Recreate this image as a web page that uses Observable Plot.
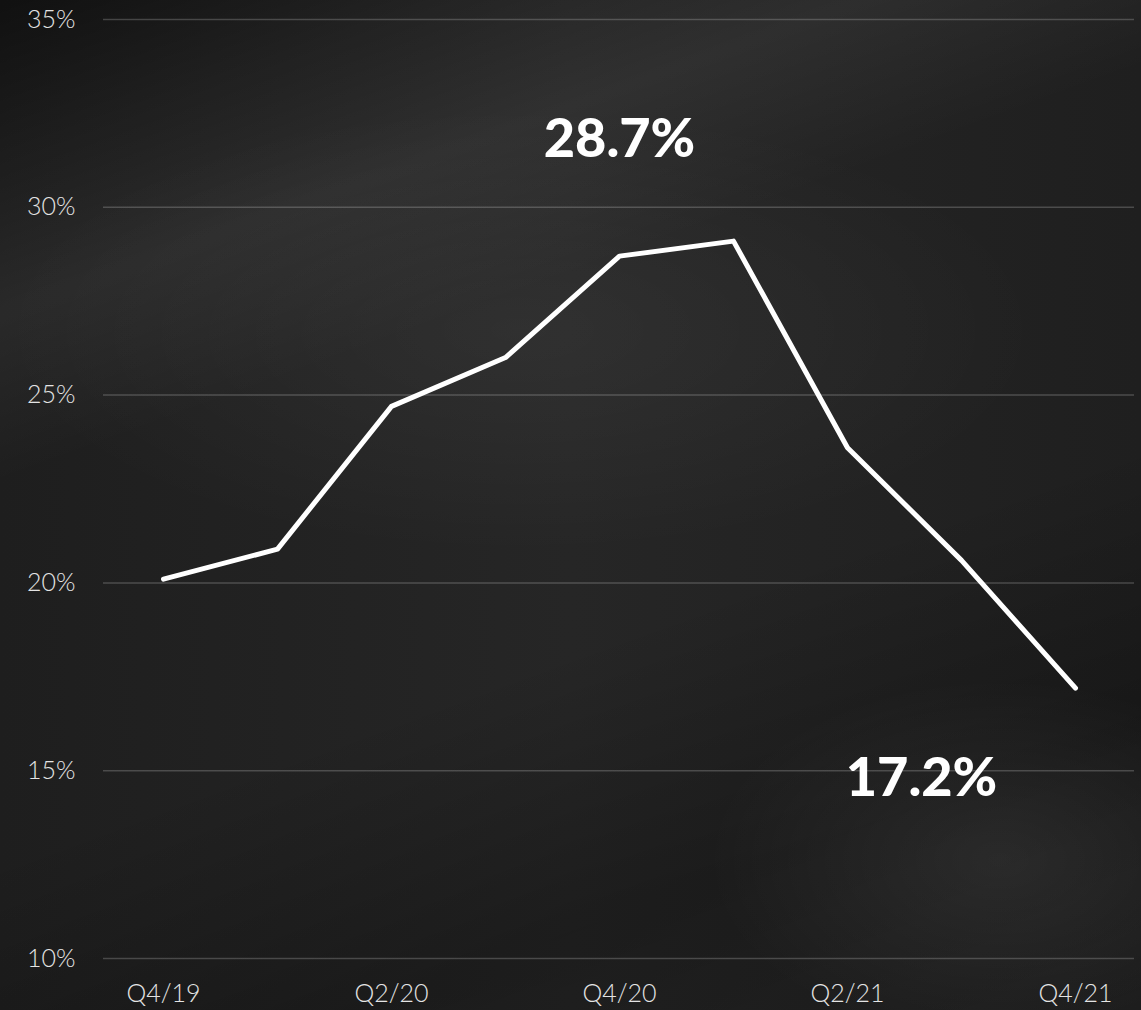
<!DOCTYPE html>
<html>
<head>
<meta charset="utf-8">
<script src="https://cdn.jsdelivr.net/npm/d3@7"></script>
<script src="https://cdn.jsdelivr.net/npm/@observablehq/plot@0.6"></script>
<style>
  html, body { margin: 0; padding: 0; }
  body { width: 1141px; height: 1010px; overflow: hidden; background: #1b1b1b; }
  #bg {
    position: absolute; left: 0; top: 0; width: 1141px; height: 1010px;
    background:
      radial-gradient(ellipse 420px 260px at 1000px 860px, rgba(255,255,255,0.07), rgba(255,255,255,0) 70%),
      radial-gradient(ellipse 700px 300px at 520px 330px, rgba(255,255,255,0.05), rgba(255,255,255,0) 75%),
      linear-gradient(160deg, rgba(0,0,0,0.45) 0%, rgba(0,0,0,0) 12%, rgba(255,255,255,0.05) 22%, rgba(0,0,0,0) 34%, rgba(0,0,0,0) 60%, rgba(0,0,0,0.25) 80%, rgba(0,0,0,0.1) 100%),
      linear-gradient(90deg, #1e1e1e 0%, #262626 50%, #1f1f1f 100%);
  }
  #chart { position: absolute; left: 0; top: 0; }
  #chart text { font-family: Lato, sans-serif; }
</style>
</head>
<body>
<div id="bg"></div>
<div id="chart"></div>
<script>
const quarters = ["Q4/19","Q1/20","Q2/20","Q3/20","Q4/20","Q1/21","Q2/21","Q3/21","Q4/21"];
const shares = [20.1, 20.9, 24.7, 26.0, 28.7, 29.1, 23.6, 20.6, 17.2];
const xTicks = ["Q4/19","Q2/20","Q4/20","Q2/21","Q4/21"];
const yTicks = [10, 15, 20, 25, 30, 35];
const labelQuarters = ["Q4/20", "Q4/21"];
const labelValues = [28.7, 17.2];

const data = quarters.map((q, i) => ({q, v: shares[i]}));
const labels = labelQuarters.map((q, i) => ({q, v: labelValues[i], t: labelValues[i].toFixed(1) + "%"}));

const chart = Plot.plot({
  width: 1141,
  height: 1010,
  marginLeft: 103,
  marginRight: 7,
  marginTop: 19,
  marginBottom: 52,
  style: {background: "transparent", color: "#e4e4e4", fontFamily: "Lato, sans-serif", fontSize: "25px", fontWeight: 300},
  x: {type: "point", domain: quarters, padding: 0.5, axis: null},
  y: {domain: [10, 35], axis: null},
  marks: [
    Plot.ruleY(yTicks, {stroke: "#ffffff", strokeOpacity: 0.2, strokeWidth: 1.5}),
    Plot.axisY({ticks: yTicks, tickSize: 0, tickPadding: 28, tickFormat: d => d + "%", fontSize: 25, fontWeight: 300, label: null}),
    Plot.axisX({ticks: xTicks, tickSize: 0, tickPadding: 26, fontSize: 25, fontWeight: 300, label: null}),
    Plot.line(data, {x: "q", y: "v", stroke: "#ffffff", strokeWidth: 5, strokeLinejoin: "round", strokeLinecap: "round"}),
    Plot.text(labels.slice(0, 1), {x: "q", y: "v", text: "t", dy: -116, fill: "#ffffff", fontSize: 54, fontWeight: 900}),
    Plot.text(labels.slice(1), {x: "q", y: "v", text: "t", dy: 91, dx: -154, fill: "#ffffff", fontSize: 54, fontWeight: 900})
  ]
});
document.getElementById("chart").appendChild(chart);
</script>
</body>
</html>
